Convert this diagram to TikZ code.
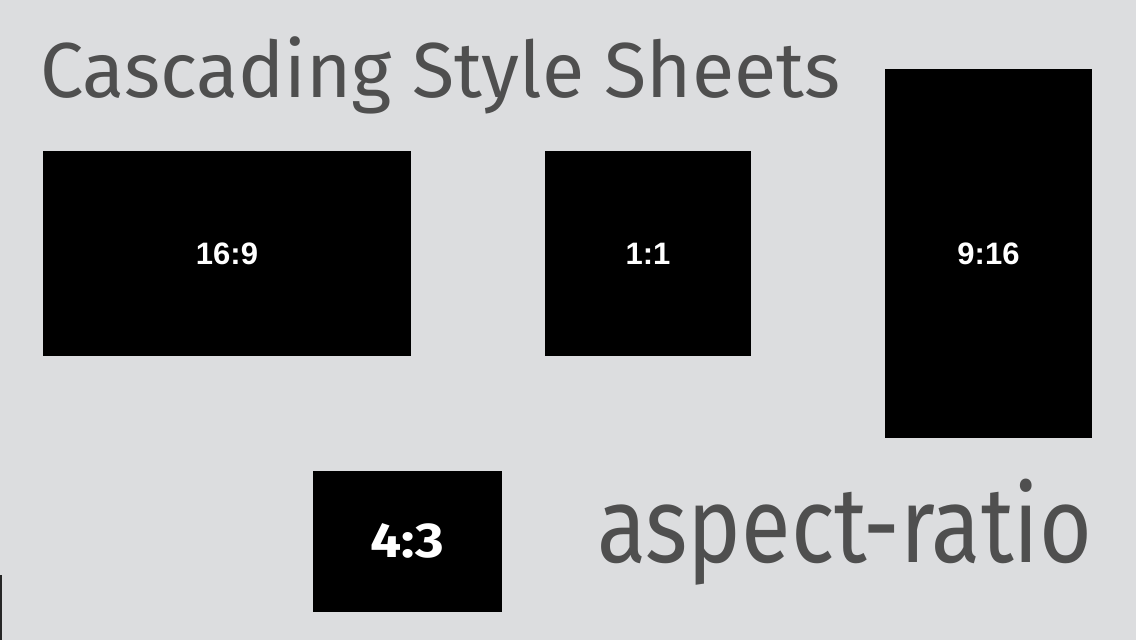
\documentclass[tikz,border=0pt]{standalone}
\usepackage{fontspec}
\usepackage{graphicx}
\setmainfont{Fira Sans}
\newfontfamily\arialbold{Liberation Sans}
\definecolor{bg}{HTML}{DCDDDF}
\definecolor{ink}{HTML}{4F4F4F}
\tikzset{
  blackbox/.style={fill=black, draw=none, inner sep=0pt, text=white},
  ratiolabel/.style={font=\arialbold\bfseries\fontsize{31}{31}\selectfont},
  bigtext/.style={anchor=base west, inner sep=0pt, text=ink},
}
\begin{document}
\begin{tikzpicture}[x=1pt,y=-1pt]
\useasboundingbox[fill=bg] (0,0) rectangle (1136,640);
% boxes
\node[blackbox, minimum width=368pt, minimum height=205pt, ratiolabel] (wide) at (227,253.5) {16:9};
\node[blackbox, minimum width=206pt, minimum height=205pt, ratiolabel] (square) at (648,253.5) {1:1};
\node[blackbox, minimum width=207pt, minimum height=369pt, ratiolabel] (tall) at (988.5,253.5) {9:16};
\node[blackbox, minimum width=189pt, minimum height=141pt, font=\fontsize{49}{49}\selectfont\bfseries] (classic) at (407.5,541.5) {\raisebox{2pt}{\resizebox{74pt}{\height}{4:3}}};
% texts
\node[bigtext, font=\fontsize{78}{78}\selectfont] (title) at (40,97) {\resizebox{800pt}{\height}{Cascading Style Sheets}};
\node[bigtext, font=\fontsize{107}{107}\selectfont] (prop) at (597,562) {\resizebox{495pt}{\height}{aspect-ratio}};
% left edge line
\coordinate (edgetop) at (1,575);
\coordinate (edgebot) at (1,640);
\draw[line width=2pt, draw=black!85] (edgetop) -- (edgebot);
\end{tikzpicture}
\end{document}
